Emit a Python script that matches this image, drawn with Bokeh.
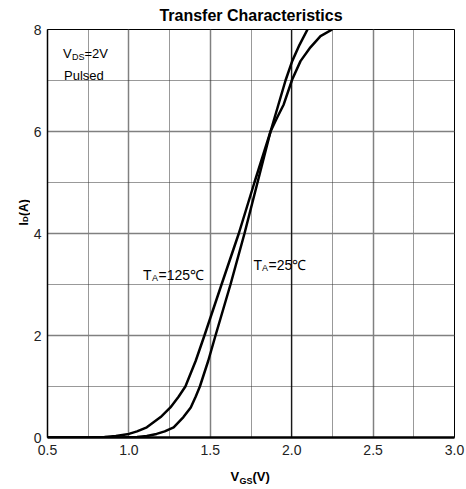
import math
from bokeh.plotting import figure
from bokeh.layouts import row, column
from bokeh.models import FixedTicker, Label, Span, Range1d
from bokeh.embed import file_html
from bokeh.resources import INLINE

# ---- data ----
vgs_25 = [0.5, 0.95, 1.05, 1.11, 1.17, 1.22, 1.275, 1.335, 1.38, 1.41, 1.436, 1.487, 1.532,
          1.624, 1.710, 1.790, 1.870, 1.916, 1.962, 2.003, 2.048, 2.097]
id_25 = [0.0, 0.0, 0.01, 0.03, 0.07, 0.12, 0.2, 0.4, 0.59, 0.8, 1.0, 1.5, 2.0,
         3.0, 4.0, 5.0, 6.0, 6.5, 7.0, 7.38, 7.7, 8.0]

vgs_125 = [0.5, 0.75, 0.85, 0.92, 1.0, 1.05, 1.11, 1.195, 1.255, 1.305, 1.347, 1.41, 1.464,
           1.569, 1.675, 1.771, 1.870, 1.910, 1.951, 2.003, 2.054, 2.115, 2.177, 2.249]
id_125 = [0.0, 0.0, 0.01, 0.03, 0.07, 0.12, 0.2, 0.4, 0.59, 0.8, 1.0, 1.5, 2.0,
          3.0, 4.0, 5.0, 6.0, 6.27, 6.53, 7.02, 7.38, 7.65, 7.87, 8.0]

x_ticks = [0.5, 1.0, 1.5, 2.0, 2.5, 3.0]
x_minor = [0.75, 1.25, 1.75, 2.25, 2.75]
y_ticks = [0, 2, 4, 6, 8]
y_minor = [1, 3, 5, 7]

FONT = "Liberation Sans"

W, H = 466, 489
YLAB_W = 30          # strip holding the y-axis label
XLAB_H = 29          # strip holding the x-axis label
L, R, T, B = 47, 12, 28, 52   # frame borders in the full 466x489 canvas
XMIN, XMAX, YMIN, YMAX = 0.5, 3.0, 0.0, 8.0

MAIN_W = W - YLAB_W
MAIN_H = H - XLAB_H

p = figure(width=MAIN_W, height=MAIN_H, output_backend="svg", toolbar_location=None,
           x_range=Range1d(XMIN, XMAX), y_range=Range1d(YMIN, YMAX),
           min_border_left=L - YLAB_W, min_border_right=R, min_border_top=T,
           min_border_bottom=B - XLAB_H, title="Transfer Characteristics")
p.title.align = "center"
p.title.vertical_align = "middle"
p.title.text_font = FONT
p.title.text_font_size = "16px"
p.title.text_font_style = "bold"
p.title.text_color = "black"

p.background_fill_color = "white"
p.border_fill_color = "white"
p.outline_line_color = "black"
p.outline_line_width = 1

for ax in (p.xaxis, p.yaxis):
    ax.major_tick_in = 0
    ax.major_tick_out = 0
    ax.minor_tick_in = 0
    ax.minor_tick_out = 0
    ax.major_label_text_font = FONT
    ax.major_label_text_font_size = "14px"
    ax.major_label_text_color = "#222222"
    ax.axis_line_color = "black"
    ax.axis_label_standoff = 0

p.xaxis.ticker = FixedTicker(ticks=x_ticks, minor_ticks=x_minor)
p.yaxis.ticker = FixedTicker(ticks=y_ticks, minor_ticks=y_minor)
p.xaxis.major_label_overrides = {v: f"{v:.1f}" for v in x_ticks}
p.xaxis.major_label_standoff = 7
p.yaxis.major_label_standoff = 6
p.xaxis.axis_line_width = 2.5
p.yaxis.axis_line_width = 1.5

for g in (p.xgrid, p.ygrid):
    g.grid_line_color = "#808080"
    g.grid_line_width = 1.5
    g.minor_grid_line_color = "#333333"
    g.minor_grid_line_width = 1
    g.minor_grid_line_dash = "1 1"

p.add_layout(Span(location=2.0, dimension="height", line_color="black", line_width=1))

p.line(vgs_25, id_25, line_color="black", line_width=2.5)
p.line(vgs_125, id_125, line_color="black", line_width=2.5)


def blank(w, h):
    f = figure(width=w, height=h, output_backend="svg", toolbar_location=None,
               x_range=Range1d(0, w), y_range=Range1d(0, h),
               x_axis_location=None, y_axis_location=None, min_border=0)
    f.grid.visible = False
    f.outline_line_color = None
    f.background_fill_color = "white"
    f.border_fill_color = "white"
    return f

ylab = blank(YLAB_W, H)
xlab = blank(MAIN_W, XLAB_H)


def put(fig, ox, oy_bottom, text, sx, sy, size, bold=False, angle=0.0, baseline="alphabetic"):
    # sx, sy: pixels of the full 466x489 picture (origin top-left)
    # ox: left edge of fig's frame in the picture; oy_bottom: bottom edge of that frame
    fig.add_layout(Label(x=sx - ox, y=oy_bottom - sy, x_units="screen", y_units="screen",
                         text=text, text_font=FONT,
                         text_font_size=f"{size}px",
                         text_font_style="bold" if bold else "normal",
                         text_align="left", text_baseline=baseline,
                         angle=angle, text_color="black"))

FB = T + (H - T - B)   # main frame bottom (437)

# inside the main frame
put(p, L, FB, "V", 62.5, 53, 13)
put(p, L, FB, "DS", 71.5, 56.5, 9)
put(p, L, FB, "=2V", 84, 53, 13)
put(p, L, FB, "Pulsed", 63.5, 75, 13)

put(p, L, FB, "T", 142.5, 274, 14)
put(p, L, FB, "A", 151.5, 277.5, 9)
put(p, L, FB, "=125\u2103", 158, 274, 14)
put(p, L, FB, "T", 253, 264, 14)
put(p, L, FB, "A", 261.5, 267.5, 9)
put(p, L, FB, "=25\u2103", 268, 264, 14)

# x-axis label strip (its frame is aligned with the main frame)
put(xlab, L, H, "V", 230, 476, 13, bold=True)
put(xlab, L, H, "GS", 239, 480, 9, bold=True)
put(xlab, L, H, "(A)".replace("A", "V"), 252, 476, 13, bold=True)

# y-axis label strip (rotated, centred on its anchor line)
put(ylab, 0, H, "I", 23.0, 225, 12, bold=True, angle=math.pi / 2, baseline="middle")
put(ylab, 0, H, "D", 25.0, 221.5, 8, bold=True, angle=math.pi / 2, baseline="middle")
put(ylab, 0, H, "(A)", 23.0, 215.5, 12, bold=True, angle=math.pi / 2, baseline="middle")

layout = row(ylab, column(p, xlab, spacing=0), spacing=0)

open("out.html", "w").write(file_html(layout, INLINE))
